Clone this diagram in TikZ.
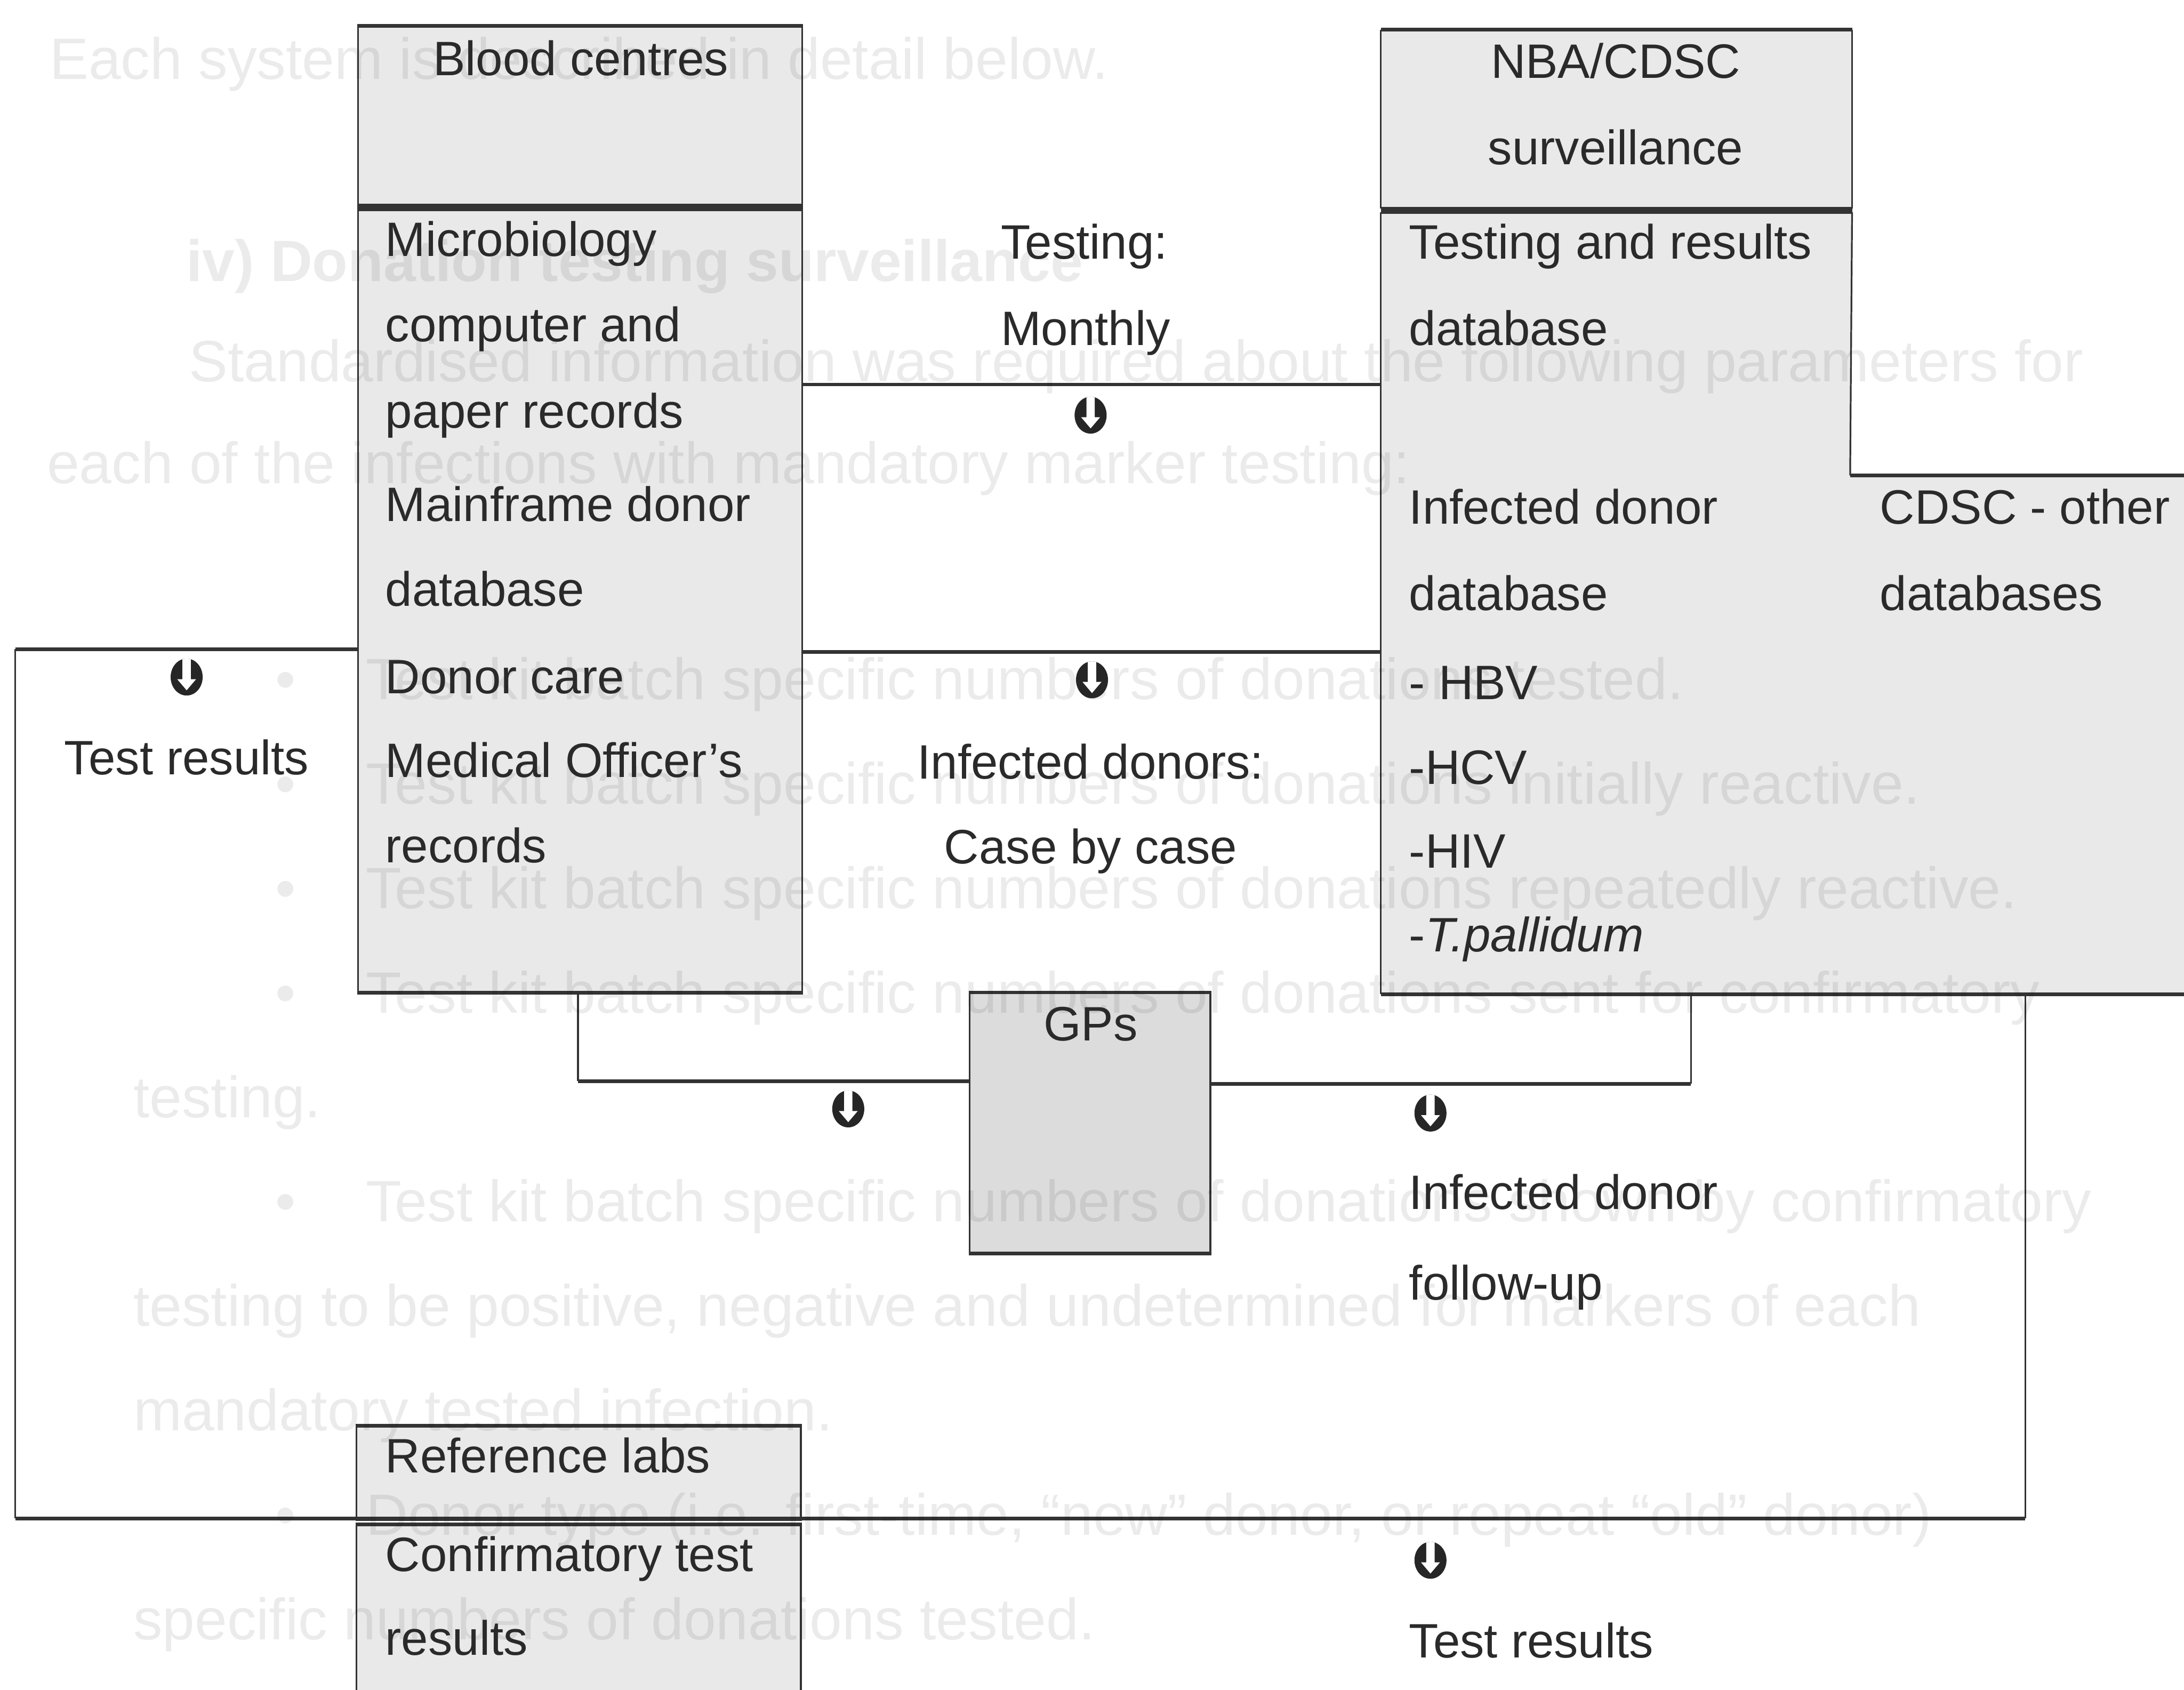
\documentclass[tikz,border=0pt]{standalone}
\usepackage{fontspec}
\setmainfont{Liberation Sans}
\usetikzlibrary{fit,shapes.geometric,calc}
\definecolor{boxgray}{HTML}{E9E9E9}
\definecolor{gpgray}{HTML}{DCDCDC}
\definecolor{inkc}{HTML}{2A2A2A}
\definecolor{linec}{HTML}{333333}
\begin{document}
\begin{tikzpicture}[x=0.1mm, y=-0.1mm,
  hl/.style={draw=linec, line width=0.75pt},
  vl/.style={draw=linec, line width=0.35pt},
  boxfill/.style={fill=#1, draw=none, inner sep=0pt},
  boxfill/.default=boxgray,
  box/.style={fill=#1, draw=linec, line width=0.35pt, inner sep=0pt},
  box/.default=boxgray,
  lbl/.style={anchor=base west, inner sep=0pt, text=inkc, font=\fontsize{9.87pt}{11pt}\selectfont},
  lblc/.style={anchor=base, inner sep=0pt, text=inkc, font=\fontsize{9.87pt}{11pt}\selectfont},
  bgt/.style={anchor=base west, inner sep=0pt, text=black, text opacity=0.08, font=\fontsize{11.9pt}{14pt}\selectfont},
  bgb/.style={anchor=base, inner sep=0pt, text=black, text opacity=0.08, font=\fontsize{11.9pt}{14pt}\selectfont},
  markdisk/.style={ellipse, fill=black!85, minimum width=2.3mm, minimum height=2.65mm, inner sep=0pt,
    path picture={\fill[white, shift={(path picture bounding box.center)}]
      (-0.3mm,1.6mm) -- (-0.3mm,-0.15mm) -- (-0.68mm,-0.15mm) -- (0mm,-0.95mm) -- (0.68mm,-0.15mm) -- (0.3mm,-0.15mm) -- (0.3mm,1.6mm) -- cycle;}}
]
\useasboundingbox (0,0) rectangle (1568,1213);
\fill[white] (0,0) rectangle (1568,1213);
\clip (0,0) rectangle (1568,1213);

% ---------- boxes ----------
\node[box, fit={(257,19) (576,147)}] (bch) {};
\node[box, fit={(257,151) (576,712)}] (bcb) {};
\node[boxfill, fit={(992,22) (1329,149)}] (nbah) {};
\node[boxfill, fit={(992,153) (1329,713)}] (nbab) {};
\node[boxfill, fit={(1329,342) (1590,713)}] (cdsc) {};
\node[box=gpgray, fit={(696,713) (869,899)}] (gps) {};
\node[box, fit={(256,1024) (575,1090)}] (refh) {};
\node[box, fit={(256,1095) (575,1240)}] (refb) {};

% outlines of the NBA/CDSC shape
\draw[vl] (nbah.north west) -- (nbah.south west);
\draw[vl] (nbah.north east) -- (nbah.south east);
\draw[vl] (nbab.north west) -- (nbab.south west);
\draw[vl] (nbab.north east) -- (cdsc.north west);
\draw[hl] (nbah.north west) -- (nbah.north east);
\draw[hl] (nbah.south west) -- (nbah.south east);
\draw[hl] (nbab.north west) -- (nbab.north east);
\draw[hl] (cdsc.north west) -- (cdsc.north east);
\draw[hl] (nbab.south west) -- (cdsc.south east);

% thicker horizontal edges of the other boxes
\foreach \b in {bch,bcb,gps,refh,refb}{
  \draw[hl] (\b.north west) -- (\b.north east);
  \draw[hl] (\b.south west) -- (\b.south east);
}

% ---------- connectors ----------
\draw[hl] (bcb.east |- 0,276) -- (nbab.west |- 0,276);
\draw[hl] (bcb.east |- 0,468) -- (nbab.west |- 0,468);
\coordinate (oa) at (11,466);
\coordinate (ob) at (11,1090);
\coordinate (oc) at (1454,1090);
\draw[hl] (bcb.west |- oa) -- (oa);
\draw[vl] (oa) -- (ob);
\draw[hl] (ob) -- (oc);
\draw[vl] (oc) -- (nbab.south -| oc);
\coordinate (ga) at (415,776);
\draw[vl] (bcb.south -| ga) -- (ga);
\draw[hl] (ga) -- (gps.west |- ga);
\coordinate (gb) at (1214,778);
\draw[hl] (gps.east |- gb) -- (gb);
\draw[vl] (gb) -- (nbab.south -| gb);

% ---------- faded show-through text ----------
\node[bgt] (g1) at (35,57) {Each system is described in detail below.};
\node[bgt, font=\fontsize{11.9pt}{14pt}\selectfont\bfseries] (g2) at (133,202) {iv) Donation testing surveillance};
\node[bgt] (g3) at (135,274) {Standardised information was required about the following parameters for};
\node[bgt] (g4) at (33,347) {each of the infections with mandatory marker testing:};
\node[bgb] (gb1) at (205,502) {•};
\node[bgt] (g5) at (262,502) {Test kit batch specific numbers of donations tested.};
\node[bgb] (gb2) at (205,577) {•};
\node[bgt] (g6) at (262,577) {Test kit batch specific numbers of donations initially reactive.};
\node[bgb] (gb3) at (205,652) {•};
\node[bgt] (g7) at (262,652) {Test kit batch specific numbers of donations repeatedly reactive.};
\node[bgb] (gb4) at (205,727) {•};
\node[bgt] (g8) at (262,727) {Test kit batch specific numbers of donations sent for confirmatory};
\node[bgt] (g9) at (95,802) {testing.};
\node[bgb] (gb5) at (205,877) {•};
\node[bgt] (g10) at (262,877) {Test kit batch specific numbers of donations shown by confirmatory};
\node[bgt] (g11) at (95,952) {testing to be positive, negative and undetermined for markers of each};
\node[bgt] (g12) at (95,1027) {mandatory tested infection.};
\node[bgb] (gb6) at (205,1102) {•};
\node[bgt] (g13) at (262,1102) {Donor type (i.e. first-time, “new” donor, or repeat “old” donor)};
\node[bgt] (g14) at (95,1177) {specific numbers of donations tested.};

% ---------- markers ----------
\node[markdisk] (m1) at (134,486) {};
\node[markdisk] (m2) at (783,298) {};
\node[markdisk] (m3) at (784,488) {};
\node[markdisk] (m4) at (609,796) {};
\node[markdisk] (m5) at (1027,799) {};
\node[markdisk] (m6) at (1027,1120) {};

% ---------- labels ----------
\node[lblc] (t1) at (417,54) {Blood centres};
\node[lblc] (t2) at (1160,56) {NBA/CDSC};
\node[lblc] (t3) at (1160,118) {surveillance};
\node[lbl] (t4) at (276,184) {Microbiology};
\node[lbl] (t5) at (276,245) {computer and};
\node[lbl] (t6) at (276,307) {paper records};
\node[lbl] (t7) at (276,374) {Mainframe donor};
\node[lbl] (t8) at (276,435) {database};
\node[lbl] (t9) at (276,498) {Donor care};
\node[lbl] (t10) at (276,558) {Medical Officer’s};
\node[lbl] (t11) at (276,619) {records};
\node[lbl] (t12) at (718,186) {Testing:};
\node[lbl] (t13) at (718,248) {Monthly};
\node[lbl] (t14) at (1011,186) {Testing and results};
\node[lbl] (t15) at (1011,248) {database};
\node[lbl] (t16) at (1011,376) {Infected donor};
\node[lbl] (t17) at (1011,438) {database};
\node[lbl] (t18) at (1011,502) {- HBV};
\node[lbl] (t19) at (1011,563) {-HCV};
\node[lbl] (t20) at (1011,623) {-HIV};
\node[lbl] (t21) at (1011,683) {-\textit{T.pallidum}};
\node[lbl] (t22) at (1349,376) {CDSC - other};
\node[lbl] (t23) at (1349,438) {databases};
\node[lblc] (t24) at (134,556) {Test results};
\node[lblc] (t25) at (783,559) {Infected donors:};
\node[lblc] (t26) at (783,620) {Case by case};
\node[lblc] (t27) at (783,747) {GPs};
\node[lbl] (t28) at (1011,868) {Infected donor};
\node[lbl] (t29) at (1011,933) {follow-up};
\node[lbl] (t30) at (276,1057) {Reference labs};
\node[lbl] (t31) at (276,1128) {Confirmatory test};
\node[lbl] (t32) at (276,1188) {results};
\node[lbl] (t33) at (1011,1190) {Test results};
\end{tikzpicture}
\end{document}
